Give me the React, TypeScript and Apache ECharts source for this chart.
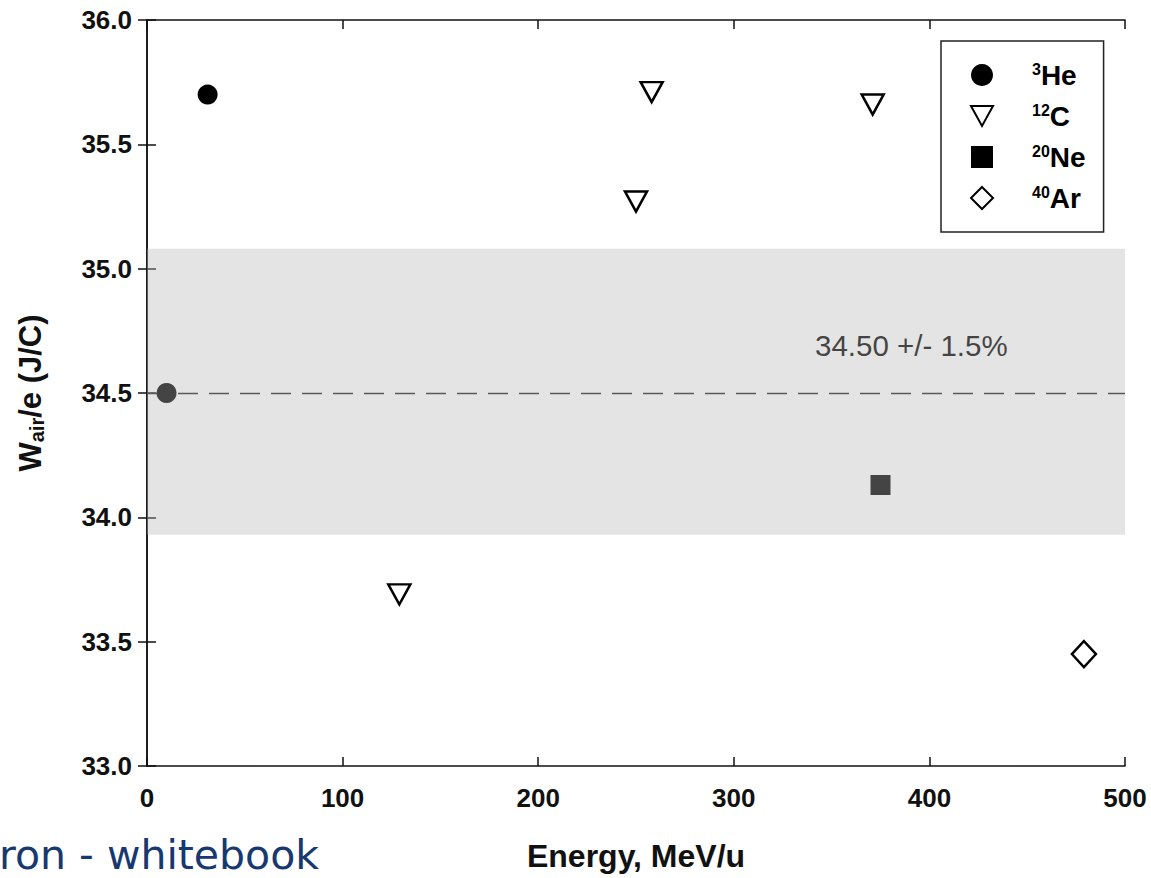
import React, { useEffect, useRef } from "react";
import * as echarts from "echarts";

// W_air/e measurements vs. beam energy, per ion species
const HE_POINTS: [number, number][] = [
  [31, 35.7],
  [10, 34.5],
];
const C_POINTS: [number, number][] = [
  [129, 33.69],
  [250, 35.27],
  [258, 35.71],
  [371, 35.66],
];
const NE_POINTS: [number, number][] = [[375, 34.13]];
const AR_POINTS: [number, number][] = [[479, 33.45]];

const SERIES_NAMES = ["3He", "12C", "20Ne", "40Ar"];

// Recommended value and its uncertainty band
const MEAN_VALUE = 34.5;
const BAND_LOW = 33.93;
const BAND_HIGH = 35.08;
const BAND_LABEL = "34.50 +/- 1.5%";

const X_MIN = 0;
const X_MAX = 500;
const X_STEP = 100;
const Y_MIN = 33.0;
const Y_MAX = 36.0;
const Y_STEP = 0.5;

const FONT = '"Liberation Sans", Arial, Helvetica, sans-serif';
// downward-pointing open triangle
const DOWN_TRIANGLE = "path://M0,0 L20,0 L10,18 Z";

export default function App() {
  const ref = useRef<HTMLDivElement>(null);

  useEffect(() => {
    if (!ref.current) return;
    const chart = echarts.init(ref.current, undefined, { renderer: "svg" });

    const axisLine = { show: true, lineStyle: { color: "#111", width: 1.5 } };
    const axisTick = {
      show: true,
      inside: true,
      length: 9,
      lineStyle: { color: "#111", width: 1.5 },
    };

    const option: any = {
      animation: false,
      backgroundColor: "#ffffff",
      grid: { left: 147, right: 26, top: 20, bottom: 112, containLabel: false },
      xAxis: [
        {
          type: "value",
          min: X_MIN,
          max: X_MAX,
          interval: X_STEP,
          position: "bottom",
          axisLine,
          axisTick,
          splitLine: { show: false },
          axisLabel: {
            margin: 19,
            color: "#111",
            fontFamily: FONT,
            fontWeight: "bold",
            fontSize: 26,
          },
          name: "Energy, MeV/u",
          nameLocation: "middle",
          nameGap: 74,
          nameTextStyle: {
            color: "#111",
            fontFamily: FONT,
            fontWeight: "bold",
            fontSize: 32,
          },
        },
        {
          type: "value",
          min: X_MIN,
          max: X_MAX,
          interval: X_STEP,
          position: "top",
          axisLine,
          axisTick,
          splitLine: { show: false },
          axisLabel: { show: false },
        },
      ],
      yAxis: [
        {
          type: "value",
          min: Y_MIN,
          max: Y_MAX,
          interval: Y_STEP,
          position: "left",
          axisLine,
          axisTick,
          splitLine: { show: false },
          axisLabel: {
            margin: 15,
            color: "#111",
            fontFamily: FONT,
            fontWeight: "bold",
            fontSize: 26,
            formatter: (v: number) => v.toFixed(1),
          },
          name: "{w|W}{sub|air}{w|/e (J/C)}",
          nameLocation: "middle",
          nameRotate: 90,
          nameGap: 100,
          nameTextStyle: {
            rich: {
              w: {
                color: "#111",
                fontFamily: FONT,
                fontWeight: "bold",
                fontSize: 31,
              },
              sub: {
                color: "#111",
                fontFamily: FONT,
                fontWeight: "bold",
                fontSize: 20,
                verticalAlign: "bottom",
                padding: [14, 0, 0, 0],
              },
            },
          },
        },
        {
          type: "value",
          min: Y_MIN,
          max: Y_MAX,
          interval: Y_STEP,
          position: "right",
          axisLine,
          axisTick,
          splitLine: { show: false },
          axisLabel: { show: false },
        },
      ],
      legend: {
        orient: "vertical",
        left: 941,
        top: 41,
        padding: [20, 18, 20, 29],
        itemGap: 13,
        itemWidth: 22,
        itemHeight: 22,
        borderColor: "#222",
        borderWidth: 1.5,
        backgroundColor: "#fff",
        data: SERIES_NAMES,
        formatter: (name: string) => {
          const m = name.match(/^(\d+)(\D+)$/);
          if (!m) return name;
          return `{gap|}{sup|${m[1]}}{main|${m[2]}}`;
        },
        textStyle: {
          rich: {
            gap: { width: 34, lineHeight: 28 },
            sup: {
              color: "#000",
              fontFamily: FONT,
              fontWeight: "bold",
              fontSize: 16,
              lineHeight: 16,
              verticalAlign: "top",
            },
            main: {
              color: "#000",
              fontFamily: FONT,
              fontWeight: "bold",
              fontSize: 28,
              lineHeight: 28,
            },
          },
        },
      },
      graphic: [
        {
          type: "text",
          left: 815,
          top: 330,
          z: 0,
          style: {
            text: BAND_LABEL,
            font: `29.5px ${FONT}`,
            fill: "#000",
          },
        },
        {
          type: "text",
          left: -1,
          top: 834,
          style: {
            text: "ron - whitebook",
            font: '41px "DejaVu Sans", Verdana, sans-serif',
            fill: "#17396f",
          },
        },
      ],
      series: [
        {
          name: SERIES_NAMES[0],
          type: "scatter",
          z: 3,
          data: HE_POINTS,
          symbol: "circle",
          symbolSize: 20,
          itemStyle: { color: "#000", borderWidth: 0, opacity: 1 },
        },
        {
          name: SERIES_NAMES[1],
          type: "scatter",
          z: 3,
          data: C_POINTS,
          symbol: DOWN_TRIANGLE,
          symbolSize: [22, 20],
          itemStyle: {
            color: "#fff",
            borderColor: "#000",
            borderWidth: 2.5,
            opacity: 1,
          },
        },
        {
          name: SERIES_NAMES[2],
          type: "scatter",
          z: 3,
          data: NE_POINTS,
          symbol: "rect",
          symbolSize: 20,
          itemStyle: { color: "#000", borderWidth: 0, opacity: 1 },
          markLine: {
            z: 1,
            silent: true,
            symbol: "none",
            label: { show: false },
            lineStyle: { color: "#222", width: 1.4, type: [20, 11] },
            data: [{ yAxis: MEAN_VALUE }],
          },
        },
        {
          name: SERIES_NAMES[3],
          type: "scatter",
          z: 3,
          data: AR_POINTS,
          symbol: "diamond",
          symbolSize: [24, 26],
          itemStyle: {
            color: "#fff",
            borderColor: "#000",
            borderWidth: 2.5,
            opacity: 1,
          },
        },
        {
          // translucent grey band over the uncertainty range
          name: "band",
          type: "custom",
          z: 10,
          silent: true,
          clip: false,
          encode: { x: [0, 2], y: [1, 3] },
          data: [[X_MIN, BAND_LOW, X_MAX, BAND_HIGH]],
          renderItem: (_params: any, api: any) => {
            const p0 = api.coord([api.value(0), api.value(3)]);
            const p1 = api.coord([api.value(2), api.value(1)]);
            return {
              type: "rect",
              shape: {
                x: p0[0],
                y: p0[1],
                width: p1[0] - p0[0],
                height: p1[1] - p0[1],
              },
              style: { fill: "rgba(183,183,183,0.373)" },
            };
          },
        },
      ],
    };

    chart.setOption(option);
    return () => chart.dispose();
  }, []);

  return (
    <div
      ref={ref}
      style={{ position: "absolute", left: 0, top: 0, width: 1151, height: 878 }}
    />
  );
}
